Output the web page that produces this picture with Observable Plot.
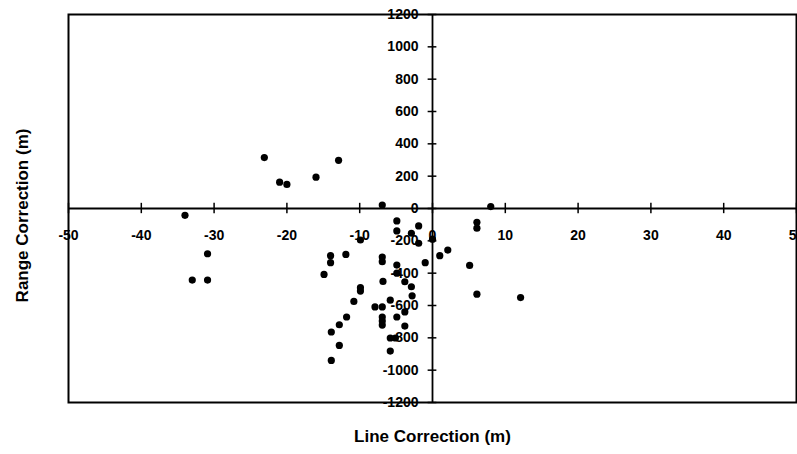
<!DOCTYPE html>
<html><head><meta charset="utf-8">
<script src="https://cdn.jsdelivr.net/npm/d3@7"></script>
<script src="https://cdn.jsdelivr.net/npm/@observablehq/plot@0.6"></script>
<style>body{margin:0;background:#fff} svg{display:block}</style>
</head><body><div id="chart"></div>
<script>
const lineCorr = [-23.1,-21.0,-20.0,-16.0,-12.9,-6.9,8.0,-34.0,-30.9,-33.0,-30.9,-14.0,-14.0,-14.9,-11.9,-9.9,-4.9,-4.9,-1.9,-2.9,-1.9,0.0,2.1,1.0,-1.0,6.1,6.1,5.1,6.1,12.1,-6.9,-6.9,-4.9,-4.9,-6.8,-3.8,-2.9,-9.9,-9.9,-2.8,-10.8,-5.8,-7.9,-6.9,-3.8,-4.9,-6.9,-6.9,-6.9,-11.8,-12.8,-13.9,-3.8,-5.8,-5.1,-12.8,-5.8,-13.9];
const rangeCorr = [315,163,149,194,298,21,12,-42,-280,-443,-443,-292,-335,-408,-284,-195,-77,-139,-108,-153,-215,-190,-257,-292,-335,-85,-122,-352,-530,-551,-300,-329,-350,-400,-451,-453,-484,-490,-511,-540,-575,-567,-609,-609,-640,-671,-671,-696,-721,-671,-719,-764,-727,-801,-801,-847,-882,-940];
const xTicks = [-50,-40,-30,-20,-10,0,10,20,30,40,50];
const yTicks = [-1200,-1000,-800,-600,-400,-200,0,200,400,600,800,1000,1200];
const xTitle = "Line Correction (m)";
const yTitle = "Range Correction (m)";

const points = lineCorr.map((x, i) => ({x, y: rangeCorr[i]}));
const font = "Liberation Sans, Arial, Helvetica, sans-serif";

const chart = Plot.plot({
  width: 797,
  height: 454,
  marginLeft: 68,
  marginRight: 1,
  marginTop: 14,
  marginBottom: 52,
  style: {fontFamily: font, background: "#fff", color: "#000"},
  x: {domain: [-50, 50], axis: null},
  y: {domain: [-1200, 1200], axis: null},
  marks: [
    Plot.frame({stroke: "#000", strokeWidth: 2}),
    Plot.ruleY([0], {stroke: "#000", strokeWidth: 1.8}),
    Plot.ruleX([0], {stroke: "#000", strokeWidth: 1.8}),
    Plot.ruleX(xTicks, {x: d => d, y1: -32, y2: 32, stroke: "#000", strokeWidth: 1.5}),
    Plot.ruleY(yTicks, {y: d => d, x1: -0.6, x2: 0.6, stroke: "#000", strokeWidth: 1.5}),
    Plot.text(xTicks, {x: d => d, y: 0, text: d => String(d), dy: 27, fontSize: 14, fontWeight: "bold", fill: "#000"}),
    Plot.text(yTicks, {x: 0, y: d => d, text: d => String(d), dx: -14, textAnchor: "end", fontSize: 14, fontWeight: "bold", fill: "#000"}),
    Plot.dot(points, {x: "x", y: "y", r: 3.6, fill: "#000", stroke: "none"}),
    Plot.text([xTitle], {frameAnchor: "bottom", dy: 39, textAnchor: "middle", fontSize: 17, fontWeight: "bold", fill: "#000"}),
    Plot.text([yTitle], {frameAnchor: "left", textAnchor: "middle", rotate: -90, dx: -46, dy: 7, fontSize: 17, fontWeight: "bold", fill: "#000"})
  ]
});
document.getElementById("chart").append(chart);
</script>
</body></html>
